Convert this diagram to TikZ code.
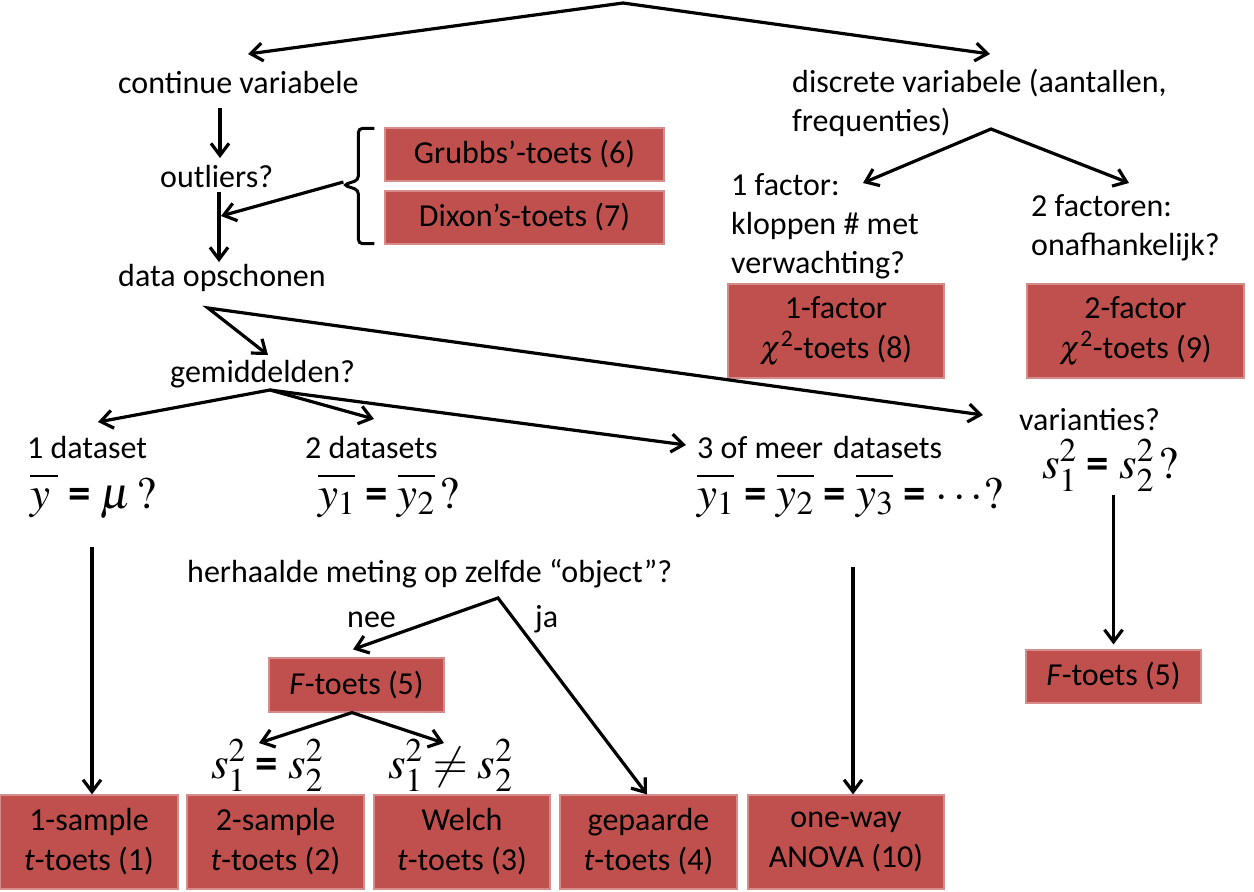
\documentclass[tikz,border=0pt]{standalone}
\usepackage{mathptmx}
\usepackage[no-math]{fontspec}
\setmainfont{Carlito}
\usetikzlibrary{arrows.meta,calc}
\definecolor{boxred}{RGB}{192,80,77}
\definecolor{boxedge}{RGB}{214,140,138}
\newcommand\yv[1]{\overline{\rule{0pt}{26pt}y#1}}
\newcommand\eqs{\mathrel{\hbox{\bfseries =}}}
\begin{document}
\begin{tikzpicture}[x=1pt,y=-1pt,
  lbl/.style={inner sep=0pt, font=\fontsize{32}{39}\selectfont},
  mth/.style={inner sep=0pt, font=\fontsize{45}{50}\selectfont},
  box/.style={fill=boxred, draw=boxedge, line width=1.2pt, inner sep=0pt, align=center, font=\fontsize{32}{40}\selectfont},
  arr/.style={line width=3.2pt, -{Straight Barb[length=12pt,width=18pt]}},
  darr/.style={line width=3.2pt, line join=miter, {Straight Barb[length=12pt,width=18pt]}-{Straight Barb[length=12pt,width=18pt]}},
  brc/.style={line width=3pt, rounded corners=4pt},
]
\useasboundingbox (0,0) rectangle (1254,892);

% text nodes
\node[lbl, anchor=base west] (cont) at (118,93) {continue variabele};
\node[lbl, anchor=north west, align=left] (disc) at (792,68.5) {discrete variabele (aantallen,\\frequenties)};
\node[lbl, anchor=base west] (outl) at (160,187) {outliers?};
\node[lbl, anchor=base west] (dat) at (118,286) {data opschonen};
\node[lbl, anchor=north west, align=left] (fac1) at (731,173) {1 factor:\\kloppen \# met\\verwachting?};
\node[lbl, anchor=north west, align=left] (fac2) at (1031,194) {2 factoren:\\onafhankelijk?};
\node[lbl, anchor=base west] (gem) at (170,382) {gemiddelden?};
\node[lbl, anchor=base west] (ds1) at (27,458) {1 dataset};
\node[lbl, anchor=base west] (ds2) at (305,458) {2 datasets};
\node[lbl, anchor=base west] (ds3) at (697,458) {3 of meer\hspace{10pt}datasets};
\node[lbl, anchor=base west] (var) at (1019,430) {varianties?};
\node[mth, anchor=base west] (m1) at (30,508) {$\yv{\kern8pt}\eqs\mu\,?$};
\node[mth, anchor=base west] (m2) at (318,508) {$\yv{_1}\eqs\yv{_2}\,?$};
\node[mth, anchor=base west] (m3) at (697,508) {$\yv{_1}\eqs\yv{_2}\eqs\yv{_3}\eqs\cdots ?$};
\node[mth, anchor=base west] (vm) at (1042,478) {$s_1^2\eqs s_2^2\,?$};
\node[lbl, anchor=base west] (her) at (187,582) {herhaalde meting op zelfde “object”?};
\node[lbl, anchor=base west] (nee) at (347,627) {nee};
\node[lbl, anchor=base west] (ja) at (535,627) {ja};
\node[mth, anchor=base west] (seq) at (211,778) {$s_1^2\eqs s_2^2$};
\node[mth, anchor=base west] (sneq) at (388,778) {$s_1^2\neq s_2^2$};

% boxes
\node[box, minimum width=279pt, minimum height=53pt] (grub) at (524.5,154.5) {Grubbs’-toets (6)};
\node[box, minimum width=279pt, minimum height=53pt] (dixo) at (524.5,217.5) {Dixon’s-toets (7)};
\node[box, minimum width=216pt, minimum height=94pt] (f1box) at (836,331) {1-factor\\$\chi$\textsuperscript{2}-toets (8)};
\node[box, minimum width=217pt, minimum height=94pt] (f2box) at (1135.5,331) {2-factor\\$\chi$\textsuperscript{2}-toets (9)};
\node[box, minimum width=175pt, minimum height=53pt] (Fr) at (1113.5,676.5) {\textit{F}-toets (5)};
\node[box, minimum width=175pt, minimum height=54pt] (Fm) at (356.5,685) {\textit{F}-toets (5)};
\node[box, minimum width=178pt, minimum height=94pt] (b1) at (89,842) {1-sample\\\textit{t}-toets (1)};
\node[box, minimum width=177pt, minimum height=94pt] (b2) at (275.5,842) {2-sample\\\textit{t}-toets (2)};
\node[box, minimum width=176pt, minimum height=94pt] (b3) at (462,842) {Welch\\\textit{t}-toets (3)};
\node[box, minimum width=177pt, minimum height=94pt] (b4) at (648.5,842) {gepaarde\\\textit{t}-toets (4)};
\node[box, minimum width=196pt, minimum height=94pt] (b5) at (846,842) {one-way\\ANOVA (10)};

% connectors
\coordinate (top) at (623,3);
\draw[darr] ($(cont.base west)+(130,-39)$) -- (top) -- ($(disc.north west)+(198,-14.5)$);
\draw[arr] ($(cont.base west)+(102,15)$) -- ($(outl.base west)+(60,-29)$);
\draw[arr] ($(outl.base west)+(59,5)$) -- ($(outl.base west)+(59,75)$);
% bracket
\draw[brc] ($(grub.north west)+(-10,1)$) -- ($(grub.north west)+(-26,1)$)
  -- ($(grub.south west)!0.5!(dixo.north west)+(-26,-6)$)
  -- ($(grub.south west)!0.5!(dixo.north west)+(-41,-1)$)
  -- ($(grub.south west)!0.5!(dixo.north west)+(-26,4)$)
  -- ($(dixo.south west)+(-26,-1)$) -- ($(dixo.south west)+(-10,-1)$);
\coordinate (brt) at ($(grub.south west)!0.5!(dixo.north west)+(-41,-4)$);
\draw[arr] (brt) -- ($(outl.base west)+(61,29)$);
\coordinate (dfork) at ($(dat.base west)+(90,22)$);
\draw[darr] ($(gem.base west)+(98,-27)$) -- (dfork) -- ($(var.base west)+(-36,-15)$);
\coordinate (gfork) at ($(gem.base west)+(100,8)$);
\draw[darr] ($(ds1.base west)+(71,-36)$) -- (gfork) -- ($(ds2.base west)+(69,-39)$);
\draw[arr] (gfork) -- ($(ds3.base west)+(-11,-13)$);
\draw[arr] ($(Fr.north |- vm.base)+(0,17)$) -- ($(Fr.north)+(0,-5)$);
\draw[arr] ($(m1.base west)+(62,39)$) -- ($(b1.north)+(3,0)$);
\draw[arr] ($(m3.base west)+(156,59)$) -- ($(b5.north)+(7,0)$);
\coordinate (hfork) at ($(her.base west)+(311,16)$);
\draw[darr] ($(Fm.north)+(-3.5,-8)$) -- (hfork) -- ($(b4.north)+(-1.5,0)$);
\coordinate (ffork) at ($(Fm.south)+(-4.5,0)$);
\draw[darr] ($(seq.base west)+(48,-35)$) -- (ffork) -- ($(sneq.base west)+(56,-35)$);
\coordinate (dfork2) at ($(disc.north west)+(199,60.5)$);
\draw[darr] ($(fac1.north west)+(132,10)$) -- (dfork2) -- ($(fac2.north west)+(98,-11)$);
\end{tikzpicture}
\end{document}
